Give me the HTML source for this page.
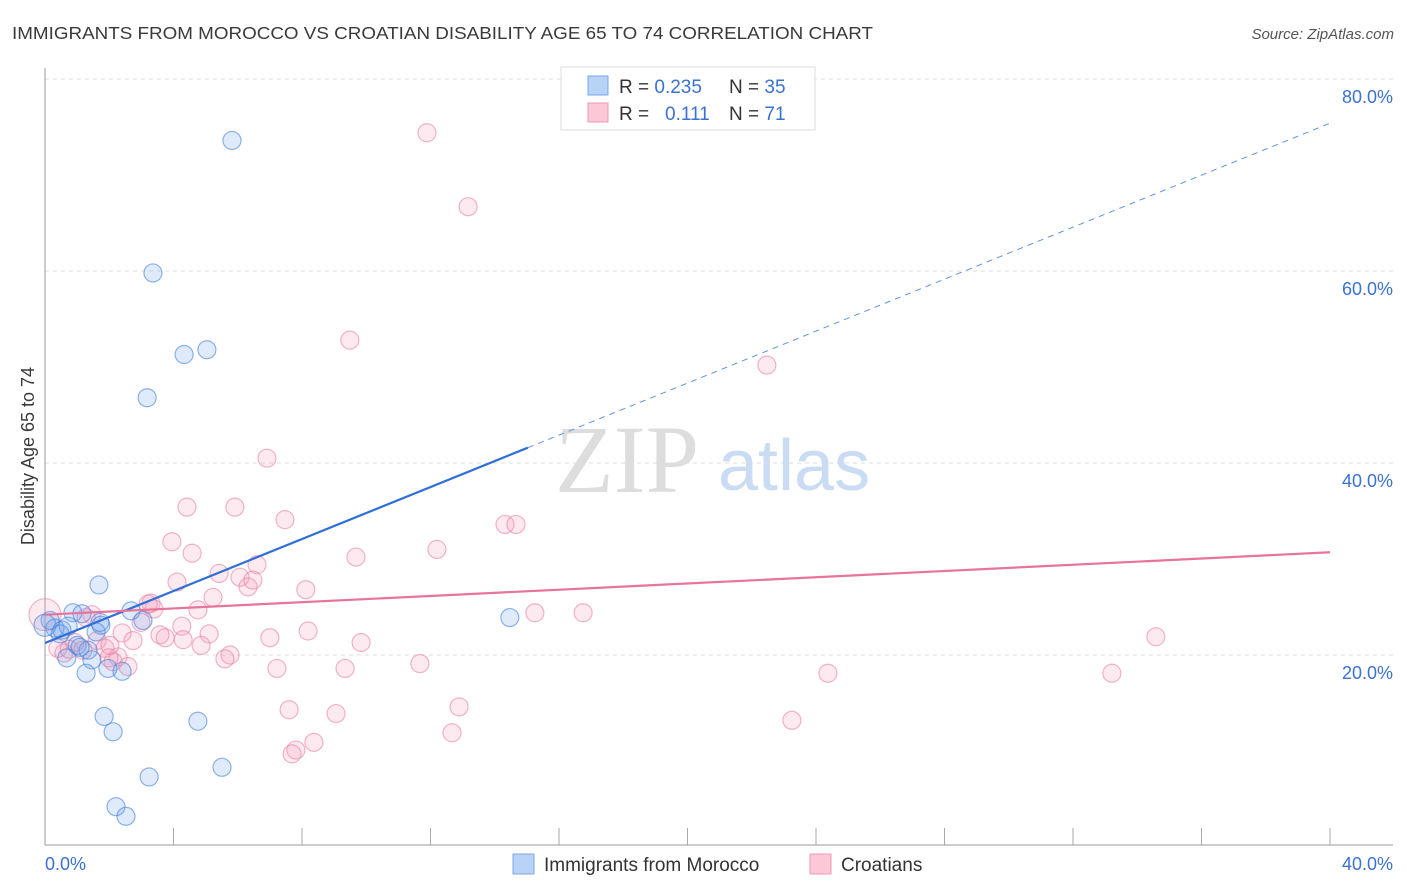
<!DOCTYPE html>
<html><head><meta charset="utf-8"><style>
body{margin:0;background:#fff;font-family:"Liberation Sans",sans-serif}
svg{display:block}
</style></head><body>
<svg width="1406" height="892" viewBox="0 0 1406 892">
<text x="12" y="39" font-size="17.5" fill="#3a3a3a" textLength="861" lengthAdjust="spacingAndGlyphs">IMMIGRANTS FROM MOROCCO VS CROATIAN DISABILITY AGE 65 TO 74 CORRELATION CHART</text>
<text x="1394" y="39" font-size="15" fill="#555" font-style="italic" text-anchor="end">Source: ZipAtlas.com</text>
<text x="34" y="456" font-size="18" fill="#3a3a3a" text-anchor="middle" transform="rotate(-90 34 456)">Disability Age 65 to 74</text>
<g id="grid"></g>
<g id="axes"></g>
<text x="555" y="492" font-size="96" fill="#ddd" font-family="Liberation Serif,serif">ZIP</text>
<text x="718" y="490" font-size="72" fill="#c9dcf3">atlas</text>
<g id="pts"></g>
<g id="lines"></g>
<g>
<rect x="561" y="67" width="254" height="63" fill="#fff" stroke="#ddd"/>
<rect x="588" y="76" width="20" height="19" fill="#b8d3f5" stroke="#7aa7e6"/>
<rect x="588" y="103" width="20" height="19" fill="#fbc8d7" stroke="#ee9ab5"/>
<text x="619" y="93" font-size="19" fill="#333">R = <tspan fill="#3a72d0">0.235</tspan></text>
<text x="729" y="93" font-size="19" fill="#333">N = <tspan fill="#3a72d0">35</tspan></text>
<text x="619" y="120" font-size="19" fill="#333">R = </text><text x="665" y="120" font-size="19" fill="#3a72d0">0.111</text>
<text x="729" y="120" font-size="19" fill="#333">N = <tspan fill="#3a72d0"> 71</tspan></text>
</g>
<g>
<rect x="513" y="854" width="21" height="20" fill="#b8d3f5" stroke="#7aa7e6"/>
<text x="544" y="871" font-size="19" fill="#333">Immigrants from Morocco</text>
<rect x="810" y="854" width="21" height="20" fill="#fbc8d7" stroke="#ee9ab5"/>
<text x="841" y="871" font-size="19" fill="#333">Croatians</text>
</g>
</svg>
<script>
const yTicks=[20,40,60,80];
const yTickLabels=["20.0%","40.0%","60.0%","80.0%"];
const xTickLabels=["0.0%","40.0%"];
const blueX=[5.82,3.36,4.33,5.04,3.18,1.68,0.87,1.15,2.68,3.05,1.74,0.16,0.31,0.53,0.72,1.59,1.0,1.34,0.68,1.46,1.28,1.96,2.4,1.84,2.12,4.76,5.51,3.24,2.21,2.52,14.47,0,0.47,1.09,1.71];
const blueY=[73.6,59.8,51.3,51.8,46.8,27.3,24.4,24.3,24.6,23.6,23.1,23.6,22.8,22.6,23.0,22.4,21.0,20.5,19.7,19.5,18.1,18.6,18.3,13.6,12.0,13.1,8.3,7.3,4.2,3.2,23.9,23.1,22.2,20.8,23.4];
const pinkX=[11.89,13.17,9.49,22.47,6.91,4.42,5.91,7.47,14.32,14.66,3.95,4.58,12.2,9.68,6.6,4.11,6.07,6.32,8.12,5.23,3.3,3.39,4.76,15.25,16.75,1.46,2.99,4.26,8.19,2.4,5.11,3.58,3.74,7.0,9.84,1.62,2.74,1.87,0.4,0.59,4.86,5.76,5.6,2.27,2.12,2.58,7.22,9.34,11.67,24.37,33.21,34.58,7.6,9.06,12.89,12.67,8.37,7.81,7.69,23.25,0,0.93,1.28,2.02,3.21,4.3,6.47,1.99,0.75,1.18,5.42];
const pinkY=[74.4,66.7,52.8,50.2,40.5,35.4,35.4,34.1,33.6,33.6,31.8,30.6,31.0,30.2,29.4,27.6,28.1,27.1,26.8,26.0,25.4,24.8,24.7,24.4,24.4,24.2,23.4,23.0,22.5,22.3,22.2,22.1,21.8,21.8,21.3,21.5,21.5,20.7,20.7,20.2,21.0,20.0,19.6,19.8,19.3,18.8,18.6,18.6,19.1,18.1,18.1,21.9,14.3,13.9,14.6,11.9,10.9,10.1,9.7,13.2,24.2,21.3,23.9,21.0,25.3,21.6,27.8,19.7,20.6,20.5,28.5];
const blueTrend=[21.25,75.4]; const blueSolidEnd=15.03;
const pinkTrend=[24.2,30.7];
const X=v=>45+v*1285/40, Y=v=>847-v*9.6;
const NS="http://www.w3.org/2000/svg";
function mk(t,a,p){const e=document.createElementNS(NS,t);for(const k in a)e.setAttribute(k,a[k]);p.appendChild(e);return e;}
const grid=document.getElementById('grid'),axes=document.getElementById('axes');
yTicks.forEach((v,i)=>{
 const l=mk('line',{x1:45,x2:1393,y1:Y(v),y2:Y(v),stroke:'#ddd','stroke-dasharray':'4 4'},grid);
 
 
 const t=mk('text',{x:1393,y:Y(v)+24,'font-size':18,fill:'#3a72d0','text-anchor':'end'},axes);t.textContent=yTickLabels[i];
 
 
});
mk('line',{x1:45,x2:45,y1:68,y2:845,stroke:'#999'},axes);
mk('line',{x1:45,x2:1393,y1:845,y2:845,stroke:'#999'},axes);
for(let i=1;i<=10;i++){const tk=mk('line',{x1:X(i*4),x2:X(i*4),y1:828,y2:845,stroke:'#aaa'},axes);
 
 }
const xl0=mk('text',{x:45,y:870,'font-size':18,fill:'#3a72d0'},axes);xl0.textContent=xTickLabels[0];


const xl1=mk('text',{x:1393,y:870,'font-size':18,fill:'#3a72d0','text-anchor':'end'},axes);xl1.textContent=xTickLabels[1];


const pts=document.getElementById('pts');
pinkX.forEach((x,i)=>{const c=mk('circle',{cx:X(x),cy:Y(pinkY[i]),r:x===0?16:9,fill:'rgba(244,160,188,0.22)',stroke:'rgba(232,130,165,0.6)','stroke-width':1.2},pts);
 
 });
blueX.forEach((x,i)=>{const c=mk('circle',{cx:X(x),cy:Y(blueY[i]),r:x===0?11:9,fill:'rgba(110,160,235,0.22)',stroke:'rgba(70,130,220,0.6)','stroke-width':1.2},pts);
 
 });
const ln=document.getElementById('lines');
const bAt=v=>blueTrend[0]+(blueTrend[1]-blueTrend[0])*v/40;
const b1=mk('line',{x1:X(0),y1:Y(bAt(0)),x2:X(blueSolidEnd),y2:Y(bAt(blueSolidEnd)),stroke:'#2f6fd6','stroke-width':2.2},ln);


const b2=mk('line',{x1:X(blueSolidEnd),y1:Y(bAt(blueSolidEnd)),x2:X(40),y2:Y(bAt(40)),stroke:'#5b8fe0','stroke-width':1,'stroke-dasharray':'6 5'},ln);


const p1=mk('line',{x1:X(0),y1:Y(pinkTrend[0]),x2:X(40),y2:Y(pinkTrend[1]),stroke:'#e8739b','stroke-width':2.2},ln);


</script>
</body></html>
